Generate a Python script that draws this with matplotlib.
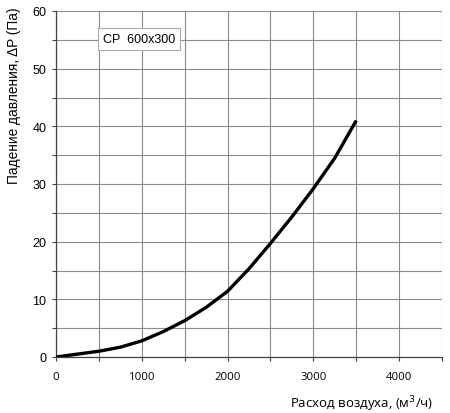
import matplotlib
matplotlib.use('Agg')
import matplotlib.pyplot as plt
import numpy as np

# data
flow = [0, 250, 500, 750, 1000, 1250, 1500, 1750, 2000, 2250, 2500, 2750, 3000, 3250, 3500]
dp = [0, 0.5, 1.0, 1.7, 2.8, 4.4, 6.3, 8.6, 11.4, 15.3, 19.7, 24.3, 29.2, 34.5, 41.0]
x_ticks = [0, 1000, 2000, 3000, 4000]
y_ticks = [0, 10, 20, 30, 40, 50, 60]
model = 'CP  600x300'

fig = plt.figure(figsize=(4.5, 4.14), dpi=100)
ax = fig.add_axes([56/450, 1-358/414, 386/450, 346/414])

ax.plot(flow, dp, color='black', lw=2.4, solid_capstyle='butt', zorder=3)

ax.set_xlim(0, 4500)
ax.set_ylim(0, 60)
ax.set_xticks(np.arange(0, 4501, 500), minor=True)
ax.set_yticks(np.arange(0, 61, 5), minor=True)
ax.set_xticks(x_ticks)
ax.set_yticks(y_ticks)
ax.grid(True, which='both', color='#8a8a8a', lw=0.8)
ax.set_axisbelow(True)

for s in ['top', 'right']:
    ax.spines[s].set_visible(False)
for s in ['left', 'bottom']:
    ax.spines[s].set_color('#444444')
    ax.spines[s].set_linewidth(0.9)

ax.tick_params(which='both', direction='out', length=3, width=0.8, color='#444444')
ax.tick_params(axis='x', pad=7)
ax.tick_params(axis='y', pad=4)
for lbl in ax.get_xticklabels():
    lbl.set_fontfamily('Open Sans')
    lbl.set_fontsize(8.2)
for lbl in ax.get_yticklabels():
    lbl.set_fontfamily('Liberation Sans')
    lbl.set_fontsize(9)

ax.text(545, 55.1, model, fontsize=9, family='Liberation Sans', va='center', ha='left',
        bbox=dict(boxstyle='square,pad=0.4', fc='white', ec='#aaaaaa', lw=0.8), zorder=4)

fig.text(14/450, 1-7/414, 'Падение давления, ΔP (Па)', rotation=90, ha='center', va='top',
         fontsize=9.8, family='Liberation Sans')
fig.text(433/450, 1-404/414, 'Расход воздуха, (м$^3$/ч)', ha='right', va='center',
         fontsize=9.5, family='Open Sans')

fig.savefig('out.png', dpi=100)
